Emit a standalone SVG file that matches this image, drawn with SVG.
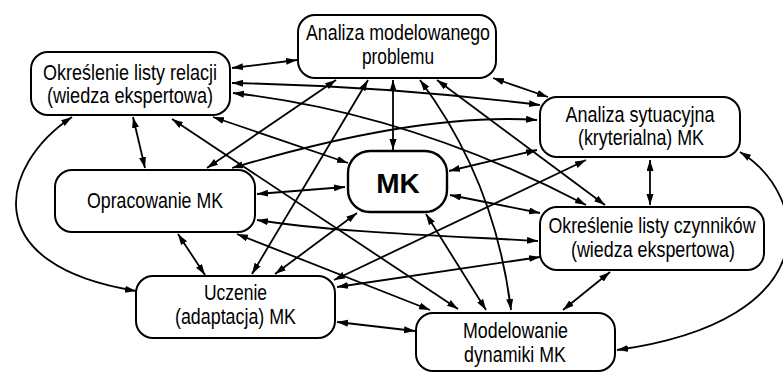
<svg xmlns="http://www.w3.org/2000/svg" width="783" height="372" viewBox="0 0 783 372">
<style>
.box{fill:#fff;stroke:#000;stroke-width:2}
.mk{fill:#fff;stroke:#000;stroke-width:2.4}
.t{font-family:"Liberation Sans",Arial,sans-serif;font-size:22px;fill:#000;text-anchor:middle}
.b{font-family:"Liberation Sans",Arial,sans-serif;font-size:28px;font-weight:bold;fill:#000;text-anchor:middle}
.c{fill:none;stroke:#000;stroke-width:1.8;marker-start:url(#ah);marker-end:url(#ah)}
</style>
<defs>
<marker id="ah" markerUnits="userSpaceOnUse" markerWidth="12" markerHeight="8" refX="11" refY="3.5" orient="auto-start-reverse" viewBox="0 0 12 8">
<path d="M0,0 L11,3.5 L0,7 z" fill="#000"/>
</marker>
</defs>
<g id="connectors">
<path class="c" d="M232,68 L297,60"/>
<path class="c" d="M232,83 Q386,86 540,105"/>
<path class="c" d="M233,93 Q410,113 586,205"/>
<path class="c" d="M213,117 L348,163"/>
<path class="c" d="M172,119 L458,309"/>
<path class="c" d="M133,117 L145,168"/>
<path class="c" d="M72,117 C0,165 -25,265 136,291"/>
<path class="c" d="M493,78 L548,97"/>
<path class="c" d="M393,80 L393,150"/>
<path class="c" d="M336,80 L207,168"/>
<path class="c" d="M368,80 L252,274"/>
<path class="c" d="M420,80 Q495,180 511,310"/>
<path class="c" d="M437,80 L605,205"/>
<path class="c" d="M537,120 Q420,112 232,168"/>
<path class="c" d="M537,150 L449,171"/>
<path class="c" d="M586,160 L334,280"/>
<path class="c" d="M650,160 L650,205"/>
<path class="c" d="M740,152 C810,195 830,320 617,350"/>
<path class="c" d="M345,187 L257,194"/>
<path class="c" d="M450,195 L540,213"/>
<path class="c" d="M426,214 L486,310"/>
<path class="c" d="M357,213 L275,274"/>
<path class="c" d="M257,220 C330,232 450,236 538,241"/>
<path class="c" d="M237,234 L430,310"/>
<path class="c" d="M178,234 L205,275"/>
<path class="c" d="M610,272 L563,310"/>
<path class="c" d="M540,257 L337,287"/>
<path class="c" d="M337,322 L415,331"/>
</g>
<g id="analiza-problemu">
<rect class="box" x="298" y="15" width="198" height="63" rx="17"/>
<text class="t" x="398" y="40" textLength="184" lengthAdjust="spacingAndGlyphs">Analiza modelowanego</text>
<text class="t" x="398" y="64" textLength="72" lengthAdjust="spacingAndGlyphs">problemu</text>
</g>
<g id="lista-relacji">
<rect class="box" x="31" y="52" width="199" height="63" rx="17"/>
<text class="t" x="130" y="80" textLength="174" lengthAdjust="spacingAndGlyphs">Określenie listy relacji</text>
<text class="t" x="130" y="103" textLength="166" lengthAdjust="spacingAndGlyphs">(wiedza ekspertowa)</text>
</g>
<g id="analiza-sytuacyjna">
<rect class="box" x="540" y="97" width="200" height="60" rx="17"/>
<text class="t" x="640" y="122" textLength="149" lengthAdjust="spacingAndGlyphs">Analiza sytuacyjna</text>
<text class="t" x="641" y="145" textLength="126" lengthAdjust="spacingAndGlyphs">(kryterialna) MK</text>
</g>
<g id="mk">
<rect class="mk" x="348" y="151" width="99" height="61" rx="22"/>
<text class="b" x="398" y="193">MK</text>
</g>
<g id="opracowanie">
<rect class="box" x="55" y="170" width="200" height="62" rx="17"/>
<text class="t" x="155" y="208" textLength="136" lengthAdjust="spacingAndGlyphs">Opracowanie MK</text>
</g>
<g id="lista-czynnikow">
<rect class="box" x="540" y="207" width="224" height="63" rx="17"/>
<text class="t" x="652" y="233" textLength="207" lengthAdjust="spacingAndGlyphs">Określenie listy czynników</text>
<text class="t" x="653" y="257" textLength="164" lengthAdjust="spacingAndGlyphs">(wiedza ekspertowa)</text>
</g>
<g id="uczenie">
<rect class="box" x="136" y="276" width="199" height="62" rx="17"/>
<text class="t" x="235.5" y="300" textLength="63" lengthAdjust="spacingAndGlyphs">Uczenie</text>
<text class="t" x="235.5" y="324" textLength="121" lengthAdjust="spacingAndGlyphs">(adaptacja) MK</text>
</g>
<g id="modelowanie">
<rect class="box" x="416" y="313" width="199" height="58" rx="17"/>
<text class="t" x="515.5" y="338" textLength="105" lengthAdjust="spacingAndGlyphs">Modelowanie</text>
<text class="t" x="515" y="362" textLength="102" lengthAdjust="spacingAndGlyphs">dynamiki MK</text>
</g>
</svg>
